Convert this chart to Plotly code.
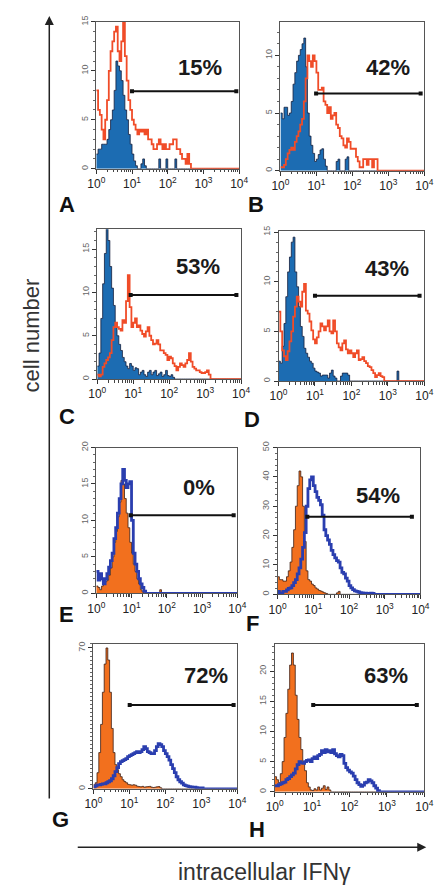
import plotly.graph_objects as go

W, H = 441, 891
BIN = 0.05          # bin width in decades
NB = 80             # 4 decades

panel_letters = ["A", "B", "C", "D", "E", "F", "G", "H"]
percent_labels = ["15%", "42%", "53%", "43%", "0%", "54%", "72%", "63%"]

# ---- histogram counts (bins of 0.05 decade starting at 10^0) ----
A_fill = [1.5, 2, 2, 2.5, 2.5, 2.5, 3, 4, 5, 6, 8, 11, 10.5, 10, 9, 7.5, 6, 5, 3.5, 2.5,
          1.5, 0.8, 0.3, 0, 0, 0.5, 1, 0.3, 0, 0, 0, 0, 0, 0, 0, 1, 0, 0, 0, 1, 0, 0, 0, 0, 1, 0]
A_line = [8, 6, 5.5, 4, 3, 5, 7, 10, 12, 13, 14, 14.5, 12, 11, 13, 15, 11.5, 9, 7, 6,
          5, 4.5, 4, 3.5, 4, 3.8, 4, 3.5, 4, 3, 3, 2.5, 2, 2, 2.5, 3, 2.5, 2, 2.5, 2,
          2, 2.5, 2.5, 3, 3, 2, 2, 1.5, 1, 1, 0.5, 1.5, 0.5, 0]
B_fill = [5, 4.5, 5.5, 5.5, 4.8, 5, 6, 7.5, 8.5, 9.5, 10, 10.5, 11, 11.5, 9, 5, 3, 2.2, 1.5, 0.8,
          1, 1.4, 1.8, 1.9, 1, 0.4, 0, 0, 0, 0, 0, 0.8, 1, 0, 0, 0, 1, 1.2, 0]
B_line = [0.3, 0.3, 0.5, 1, 1.5, 1.8, 2, 1.8, 2.5, 3, 3.4, 4, 4.5, 6, 8, 10, 9.5, 9, 10, 9.5,
          8.5, 7, 7, 7.2, 6, 5.7, 5, 5.5, 4.5, 4.8, 5, 4, 3.7, 3, 2.8, 2.2, 2, 2.8, 2.5, 1.9,
          1.9, 1.9, 1.2, 0.8, 0.3, 0.3, 1, 1, 0.5, 1, 1, 0.3, 1, 1, 0]
C_fill = [1.5, 3, 7, 11, 14.5, 17.5, 16, 13, 10.5, 8.5, 6.5, 5, 4, 3.3, 2.5, 2, 1.5, 1.2, 1.8, 1.5,
          1, 1.3, 1.2, 0.5, 0.8, 1, 0.5, 0.3, 0.8, 1, 0.5, 0.8, 1, 0.4, 0.6, 0.8, 0.3, 0.5, 1, 0.4,
          0.3, 0.5, 0.2, 0]
C_line = [0.5, 0.3, 0.5, 1.4, 1.8, 2.2, 2.5, 3, 4.5, 6, 6.5, 6, 5.8, 5.6, 6.8, 6.5, 9, 12, 8.3, 6,
          6.5, 7, 6, 6.2, 5.6, 5.2, 4.9, 5.5, 6, 5, 4.5, 4, 4.1, 4.5, 4, 3.3, 3.3, 3, 2.8, 2.2,
          2.6, 2.4, 1.8, 1.5, 1, 1.4, 1.8, 1.6, 1.4, 1.8, 2.2, 3, 2, 1.4, 1.2, 1, 1, 0.8, 0.7, 0.7,
          0.8, 1, 0.5, 0]
D_fill = [2, 1.8, 3.5, 5.8, 8.5, 11, 12.5, 14, 14.5, 11, 9.5, 7.5, 5.5, 4.5, 3.3, 2.8, 2.4, 2, 1.8, 1.3,
          1, 0.9, 0.8, 0.5, 0.6, 0.6, 0.6, 0.3, 0.8, 1.1, 0.5, 0.3, 0, 0, 0.5, 0.8, 0.8, 0.8, 0.6, 0,
          0, 0, 0, 0, 0, 0, 0, 0, 0, 0, 0, 0, 0, 0, 0, 0, 0, 0, 0, 0, 0, 0, 0, 0, 0, 1, 0]
D_line = [7, 5, 3.1, 2.5, 2.1, 3, 4, 5, 6.5, 7.5, 8.5, 8, 7.5, 9, 9.8, 7.1, 6.8, 6, 5.1, 4.2,
          3.8, 4.4, 5, 5.8, 5.5, 5.1, 5.5, 6.1, 5, 4.8, 6.1, 5, 3.8, 3.4, 3.1, 3.8, 4.1, 3.2, 2.8, 3.1,
          2.8, 2.4, 2.8, 3.1, 2.1, 2.2, 2.4, 2, 1.8, 1.5, 1.4, 1.1, 0.8, 0.4, 0.6, 0.8, 0.5, 0.4, 0]
E_fill = [1, 0.8, 0.5, 1, 1.3, 1.6, 1.8, 2.5, 3.5, 5, 7, 8.5, 10.5, 12.5, 15.5, 15, 13, 11, 9, 7,
          5.5, 4, 3, 2, 1.3, 0.5, 0.2, 0, 0, 0, 0, 0, 0, 0, 0, 0, 0.5, 0]
E_line = [3, 1.8, 2.7, 2, 1.3, 2, 2.7, 3.6, 4.5, 5.5, 7.5, 9, 11, 13, 15, 17, 15.5, 14.5, 15, 15.3,
          10, 5.5, 4, 3, 2, 1.3, 0.8, 0.3, 0]
F_fill = [6, 5, 5, 4.5, 4.5, 6, 8, 11, 16, 22, 30, 37, 42, 40, 30, 18, 8, 5, 4.5, 3.5,
          3, 2.2, 1.8, 1.3, 1.1, 0.8, 0.5, 0.3, 0, 0, 0, 0, 0, 0.5, 1, 0]
F_line = [1, 0.5, 0.3, 1, 1, 1.5, 2, 2.2, 3, 4, 5, 7, 9, 12, 16, 21, 30, 36, 39, 40,
          37, 35, 33, 32, 30.5, 27, 22, 20, 18.5, 17, 15, 13.5, 12.4, 11.5, 11, 9, 7.5, 7, 5.5, 4.5,
          3, 2.2, 1.6, 1.2, 1, 0.8, 0.6, 0.5, 0.4, 0.4, 0.3, 0.3, 0.4, 0.3, 0]
G_fill = [2, 3, 8, 18, 32, 48, 62, 70, 64, 48, 30, 18, 12, 9.5, 7.5, 6, 4.5, 3.6, 3, 2.2,
          2, 1.8, 2, 1.8, 1.3, 1.1, 1, 1.2, 0.8, 1, 1.1, 1.2, 0.8, 0.6, 0.8, 1, 1.1, 0.5, 0]
G_line = [1, 1.5, 2, 2, 2.2, 2.4, 2.5, 3, 3.5, 4, 5, 6.5, 8.5, 10.5, 12.5, 13.5, 14, 14.5, 15, 16,
          16.5, 17, 17.5, 18, 18.5, 18, 18.5, 19.5, 21, 20, 18.5, 18, 17.5, 17.5, 19, 21, 22.5, 22, 21, 19,
          17.5, 16, 14.3, 12, 10, 8, 6, 4.5, 3.5, 2.8, 2, 1.6, 1.3, 1.1, 1, 0.8, 0.8, 0.6, 0.5, 0.5,
          0.4, 0]
H_fill = [2.5, 2, 1.5, 3, 5, 9, 13, 17, 21, 23, 21, 16, 12, 9, 7, 5, 3.5, 1.5, 0.8, 0.3,
          0.2, 0.5, 0.3, 0.8, 0.3, 0.6, 1, 0.4, 0.8, 0.3, 0]
H_line = [1, 1, 1.2, 1.3, 1.5, 1.6, 2, 2.2, 2.5, 2.8, 3.1, 3.8, 4.5, 5, 4.8, 4.7, 5, 5.2, 5.3, 5,
          5.5, 5.8, 5.5, 6, 6.2, 6.8, 6.5, 7, 6.6, 6.8, 6.5, 7, 6.3, 6, 5.8, 6.2, 6, 4.7, 4, 3.6,
          3.3, 3.1, 2.6, 2, 1.5, 1.2, 0.9, 1.1, 1.5, 1.6, 2, 1.8, 1.5, 1, 0.6, 0.2, 0]

fills = [A_fill, B_fill, C_fill, D_fill, E_fill, F_fill, G_fill, H_fill]
lines = [A_line, B_line, C_line, D_line, E_line, F_line, G_line, H_line]

# ---- axes ----
y_max = [15, 12.9, 17.3, 15.1, 20, 50, 72, 24.5]
y_tickvals = [[0, 5, 10, 15], [0, 5, 10], [0, 5, 10, 15], [0, 5, 10, 15],
              [0, 5, 10, 15, 20], [0, 10, 20, 30, 40, 50], [0, 70], [0, 5, 10, 15, 20]]
y_minor = [1, 1, 1, 1, 1, 2, 2, 1]
x_tickvals = [1, 10, 100, 1000, 10000]
x_ticktext = ["10<sup>0</sup>", "10<sup>1</sup>", "10<sup>2</sup>", "10<sup>3</sup>", "10<sup>4</sup>"]

# ---- gates (marker bars) ----
gate_x0 = [10, 9.8, 8.5, 10, 9.5, 6.8, 10.2, 10.7]
gate_x1 = [8300, 7900, 7400, 7400, 7900, 5750, 7900, 6300]
gate_y = [7.9, 6.7, 9.7, 8.6, 10.7, 26.4, 41.7, 14.4]

# ---- layout boxes (pixels) ----
box_x = [(91, 240), (283, 433), (92, 242), (281, 433), (91, 238), (280, 429), (88, 238), (277, 433)]
box_y = [(16, 164), (16, 166), (225, 376), (227, 378), (445, 592), (445, 593), (643, 789), (643, 792)]
pct_pos = [(199, 62), (395, 62), (197, 263), (394, 265), (198, 485), (385, 493), (205, 675), (393, 675)]
letter_pos = [(60, 200), (258, 200), (60, 414), (253, 417), (60, 613), (254, 622), (54, 820), (259, 830)]

BLUE_FILL = "rgb(28,108,178)"
RED_LINE = "rgb(240,76,40)"
ORANGE_FILL = "rgb(242,112,30)"
BLUE_LINE = "rgb(42,62,175)"
FONT = "Liberation Sans, Arial, Helvetica"

edges = [10 ** (BIN * k) for k in range(NB + 1)]

def padded(v):
    v = list(v) + [0] * (NB - len(v))
    return v + [v[-1]]

fig = go.Figure()
layout = {}
annotations = []

for i in range(8):
    xa = "x" if i == 0 else f"x{i+1}"
    ya = "y" if i == 0 else f"y{i+1}"
    if i < 4:
        fcol, fline, lcol, lw = BLUE_FILL, "rgb(20,30,60)", RED_LINE, 1.8
    else:
        fcol, fline, lcol, lw = ORANGE_FILL, "rgb(60,30,20)", BLUE_LINE, 2.8
    fig.add_trace(go.Scatter(x=edges, y=padded(fills[i]), mode="lines", line_shape="hv",
                             fill="tozeroy", fillcolor=fcol, line=dict(color=fline, width=0.8),
                             xaxis=xa, yaxis=ya, showlegend=False, hoverinfo="skip"))
    fig.add_trace(go.Scatter(x=edges, y=padded(lines[i]), mode="lines", line_shape="hv",
                             line=dict(color=lcol, width=lw),
                             xaxis=xa, yaxis=ya, showlegend=False, hoverinfo="skip"))
    fig.add_trace(go.Scatter(x=[gate_x0[i], gate_x1[i]], y=[gate_y[i], gate_y[i]],
                             mode="lines+markers", line=dict(color="#111", width=2),
                             marker=dict(symbol="square", size=4, color="#111"),
                             xaxis=xa, yaxis=ya, showlegend=False, hoverinfo="skip"))

    x0, x1 = box_x[i]
    y0, y1 = box_y[i]
    kx = "xaxis" if i == 0 else f"xaxis{i+1}"
    ky = "yaxis" if i == 0 else f"yaxis{i+1}"
    layout[kx] = dict(domain=[x0 / W, x1 / W], anchor=ya, type="log", range=[0, 4],
                      tickvals=x_tickvals, ticktext=x_ticktext, ticks="outside", ticklen=4,
                      tickcolor="#333", showgrid=False, zeroline=False,
                      showline=True, mirror=True, linecolor="#555", linewidth=1,
                      tickfont=dict(size=12, color="#222", family=FONT),
                      minor=dict(ticks="outside", ticklen=2.5, tickcolor="#444", dtick="D1"))
    layout[ky] = dict(domain=[1 - y1 / H, 1 - y0 / H], anchor=xa, range=[0, y_max[i]],
                      tickvals=y_tickvals[i], ticks="outside", ticklen=4, tickcolor="#333",
                      tickangle=-90, showgrid=False, zeroline=False,
                      showline=True, mirror=True, linecolor="#555", linewidth=1,
                      tickfont=dict(size=9, color="#666", family=FONT),
                      minor=dict(ticks="outside", ticklen=2, tickcolor="#666", dtick=y_minor[i]))

    px, py = pct_pos[i]
    annotations.append(dict(x=px / W, y=1 - py / H, xref="paper", yref="paper",
                            xanchor="center", yanchor="middle",
                            text=f"<b>{percent_labels[i]}</b>", showarrow=False,
                            font=dict(size=22, color="#1a1a1a", family=FONT)))
    lx, ly = letter_pos[i]
    annotations.append(dict(x=lx / W, y=1 - ly / H, xref="paper", yref="paper",
                            xanchor="center", yanchor="middle",
                            text=f"<b>{panel_letters[i]}</b>", showarrow=False,
                            font=dict(size=22, color="#111", family=FONT)))

# axis arrows and titles
annotations.append(dict(x=42 / W, y=1 - 10 / H, xref="paper", yref="paper", text="",
                        showarrow=True, ax=0, ay=784, arrowhead=2, arrowsize=1.2,
                        arrowwidth=1.5, arrowcolor="#222"))
annotations.append(dict(x=435 / W, y=1 - 848 / H, xref="paper", yref="paper", text="",
                        showarrow=True, ax=-350, ay=0, arrowhead=2, arrowsize=1.2,
                        arrowwidth=1.5, arrowcolor="#222"))
annotations.append(dict(x=23 / W, y=1 - 332 / H, xref="paper", yref="paper", text="cell number",
                        xanchor="center", yanchor="middle",
                        showarrow=False, textangle=-90,
                        font=dict(size=22, color="#333", family=FONT)))
annotations.append(dict(x=266 / W, y=1 - 873 / H, xref="paper", yref="paper",
                        xanchor="center", yanchor="middle",
                        text="intracellular IFNγ", showarrow=False,
                        font=dict(size=23, color="#333", family=FONT)))

fig.update_layout(width=W, height=H, margin=dict(l=0, r=0, t=0, b=0),
                  paper_bgcolor="white", plot_bgcolor="white",
                  annotations=annotations, **layout)

fig.write_html("out.html", config={"displayModeBar": False},
               post_script="document.body.style.margin='0';")
